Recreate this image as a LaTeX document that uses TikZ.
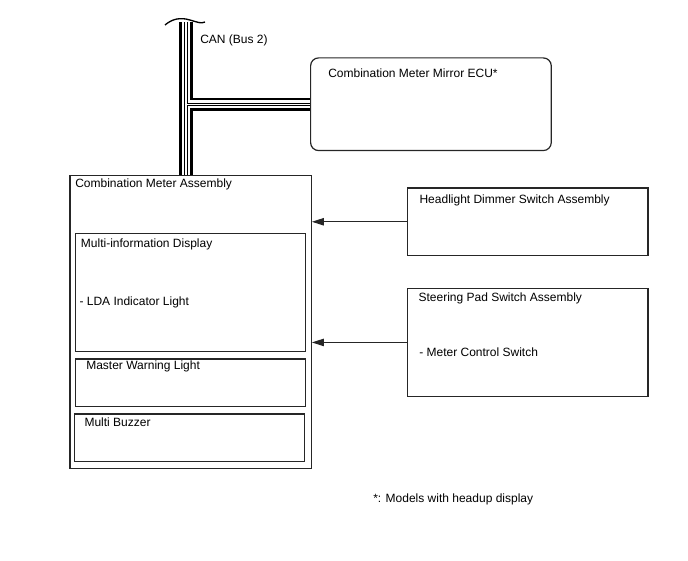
\documentclass[tikz,border=0pt]{standalone}
\usepackage{fontspec}
\setmainfont{Liberation Sans}
\usetikzlibrary{arrows.meta}

\begin{document}
\begin{tikzpicture}[x=0.75pt, y=-0.75pt, font=\fontsize{9}{11}\selectfont]
    \tikzset{box/.style={draw=black!85, line width=0.9pt, anchor=north west, inner sep=0pt},
             txt/.style={anchor=west, inner sep=0pt},
             sig/.style={draw=black!85, line width=0.9pt, -{Triangle[length=9pt,width=5.5pt]}}}
    \useasboundingbox (0,0) rectangle (688,560);

    % ECU on the bus
    \node[box, rounded corners=6pt, minimum width=180.5pt, minimum height=69.5pt] (ecu) at (310,57.3) {};
    \node[txt] (ecutxt) at (328,73) {Combination Meter Mirror ECU*};

    % Combination meter and its parts
    \node[box, minimum width=181pt, minimum height=219.5pt] (cma) at (69.3,175) {};
    \node[txt] (cmatxt) at (75,184) {Combination Meter Assembly};

    \node[box, minimum width=172.5pt, minimum height=88.5pt] (mid) at (75,232.7) {};
    \node[txt] (midtxt) at (80.7,244) {Multi-information Display};
    \node[txt] (lda) at (79.3,302.7) {- LDA Indicator Light};

    \node[box, minimum width=172.5pt, minimum height=35.8pt] (mwl) at (75,358.3) {};
    \node[txt] (mwltxt) at (86,366.7) {Master Warning Light};

    \node[box, minimum width=172.5pt, minimum height=35.8pt] (mb) at (74,413.3) {};
    \node[txt] (mbtxt) at (84.3,422.7) {Multi Buzzer};

    % Switches
    \node[box, minimum width=180.5pt, minimum height=50.8pt] (hds) at (406.7,187.3) {};
    \node[txt] (hdstxt) at (419.3,200) {Headlight Dimmer Switch Assembly};

    \node[box, minimum width=180.5pt, minimum height=81.2pt] (sps) at (406.7,287.7) {};
    \node[txt] (spstxt) at (418.3,298.3) {Steering Pad Switch Assembly};
    \node[txt] (mcs) at (419,352.7) {- Meter Control Switch};

    % Signals into the meter
    \draw[sig] (hds.west) -- (hds.west -| cma.east);
    \draw[sig] (sps.west) -- (sps.west -| cma.east);

    % CAN bus
    \coordinate (cantop) at (186,22);
    \coordinate (canjoin) at (186,104.3);
    \foreach \w/\c in {10pt/black, 6pt/white, 2.6pt/black, 1.2pt/white}
        \draw[line width=\w, \c] (cantop) -- (cantop |- cma.north)
                                  (canjoin) -- (canjoin -| ecu.west);
    \draw[line width=1pt] (165,25) .. controls (172,19) and (180,17) .. (190,20)
                                   .. controls (197,22) and (201,24) .. (205,22);
    \node[txt] (can) at (200,40) {CAN (Bus 2)};

    % Note
    \node[txt] (note) at (373,499) {*: Models with headup display};
\end{tikzpicture}
\end{document}
